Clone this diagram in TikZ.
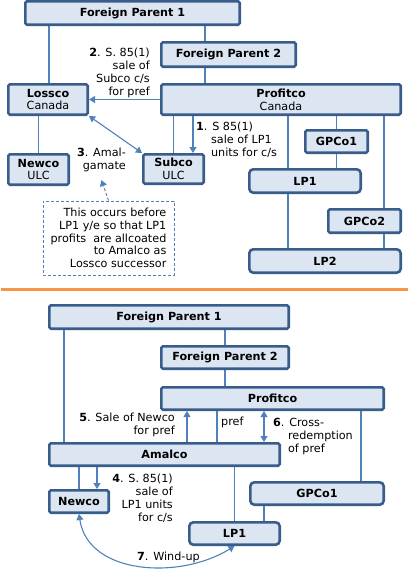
\documentclass[tikz,border=0pt]{standalone}
\usepackage{fontspec}
\setmainfont{DejaVu Sans}
\usetikzlibrary{arrows.meta,calc}

\definecolor{boxline}{RGB}{56,93,138}
\definecolor{boxfill}{RGB}{220,230,242}
\definecolor{linkblue}{RGB}{79,129,189}
\definecolor{sepline}{RGB}{247,150,70}

\newcommand{\hang}[1]{\hphantom{\textbf{#1}.\ }}

\begin{document}
\begin{tikzpicture}[x=1pt,y=-1pt,
  font=\fontsize{11.2}{12.8}\selectfont,
  box/.style={draw=boxline, fill=boxfill, line width=2.6pt, rounded corners=1.5pt, inner sep=1pt, align=center},
  lpbox/.style={box, rounded corners=4pt},
  link/.style={draw=linkblue, line width=1.1pt},
  arr/.style={link, -{Triangle[length=6pt,width=7pt]}},
  dblarr/.style={link, {Triangle[length=6pt,width=7pt]}-{Triangle[length=6pt,width=7pt]}},
  lbl/.style={inner sep=0pt, align=right, anchor=north east},
  lbll/.style={inner sep=0pt, align=left, anchor=north west}]
  \useasboundingbox (0,0) rectangle (409,570);

  % before the amalgamation
  \node[box, minimum width=214.4pt, minimum height=23.4pt] (fpA) at (132.5,13) {\textbf{Foreign Parent 1}};
  \node[box, minimum width=134.4pt, minimum height=24.4pt] (fpB) at (228.5,54.5) {\textbf{Foreign Parent 2}};
  \node[box, minimum width=79.4pt, minimum height=30.4pt] (lossco) at (48,99.5) {\textbf{Lossco}\\Canada};
  \node[box, minimum width=239.4pt, minimum height=30.4pt] (profitco) at (281,99.5) {\textbf{Profitco}\\Canada};
  \node[box, minimum width=60.4pt, minimum height=30.4pt] (newco) at (38.5,169.5) {\textbf{Newco}\\ULC};
  \node[box, minimum width=60.4pt, minimum height=29.4pt] (subco) at (173.5,169) {\textbf{Subco}\\ULC};
  \node[box, minimum width=62.4pt, minimum height=22.4pt] (gpcoA) at (336.5,141.5) {\textbf{GPCo1}};
  \node[lpbox, minimum width=111.4pt, minimum height=23.4pt] (lpA) at (305,181) {\textbf{LP1}};
  \node[box, minimum width=72.4pt, minimum height=23.4pt] (gpcoB) at (364.5,221) {\textbf{GPCo2}};
  \node[lpbox, minimum width=151.4pt, minimum height=23.4pt] (lpB) at (325,261) {\textbf{LP2}};
  \node[draw=linkblue, line width=0.9pt, dash pattern=on 3pt off 2pt, minimum width=131pt, minimum height=74pt, align=right, inner sep=2pt] (note) at (108.5,238)
    {This occurs before\\LP1 y/e so that LP1\\profits\ \ are allcoated\\to Amalco as\\Lossco successor};

  \coordinate (cA) at (49,0);
  \coordinate (cB) at (205,0);
  \coordinate (cC) at (193,0);
  \coordinate (cD) at (288,0);
  \coordinate (cE) at (384,0);

  \draw[link] (fpA.south -| cA) -- (lossco.north -| cA);
  \draw[link] (fpA.south -| cB) -- (fpB.north -| cB);
  \draw[link] (fpB.south -| cB) -- (profitco.north -| cB);
  \draw[link] (lossco.south -| newco) -- (newco.north);
  \draw[link] (profitco.south -| subco) -- (subco.north);
  \draw[arr] (profitco.south -| cC) -- (subco.north -| cC);
  \draw[arr] (profitco.west) -- (lossco.east);
  \draw[dblarr] (lossco.south east) -- (subco.north west);
  \draw[link] (profitco.south -| cD) -- (lpA.north -| cD);
  \draw[link] (lpA.south -| cD) -- (lpB.north -| cD);
  \draw[link] (profitco.south -| gpcoA) -- (gpcoA.north);
  \draw[link] (gpcoA.south) -- (lpA.north -| gpcoA);
  \draw[link] (profitco.south -| cE) -- (gpcoB.north -| cE);
  \draw[link] (gpcoB.south -| cE) -- (lpB.north -| cE);

  \node[lbl] (lblB) at (150,48) {\textbf{2}. S. 85(1)\\sale of\\Subco c/s\\for pref};
  \node[lbll] (lblA) at (196,122) {\textbf{1}. S 85(1)\\\hang{1}sale of LP1\\\hang{1}units for c/s};
  \node[lbl] (lblC) at (126,148) {\textbf{3}. Amal-\\gamate};
  \draw[link, line width=0.9pt, dash pattern=on 3pt off 2pt, -{Triangle[length=6pt,width=7pt]}] (note.north) -- ([yshift=-8pt]lblC.south);

  \draw[sepline, line width=3pt] (1,289) -- (408,289);

  % after the amalgamation
  \node[box, minimum width=239.4pt, minimum height=23.4pt] (fpA2) at (169,317) {\textbf{Foreign Parent 1}};
  \node[box, minimum width=127.4pt, minimum height=22.4pt] (fpB2) at (225,357.5) {\textbf{Foreign Parent 2}};
  \node[box, minimum width=222.4pt, minimum height=22.4pt] (profitco2) at (272.5,398.5) {\textbf{Profitco}};
  \node[box, minimum width=230.4pt, minimum height=22.4pt] (amalco) at (164.5,454.5) {\textbf{Amalco}};
  \node[box, minimum width=59.4pt, minimum height=22.4pt] (newco2) at (79,501.5) {\textbf{Newco}};
  \node[lpbox, minimum width=133.4pt, minimum height=22.4pt] (gpcoA2) at (317,493.5) {\textbf{GPCo1}};
  \node[lpbox, minimum width=90.4pt, minimum height=22.4pt] (lpA2) at (234.5,533.5) {\textbf{LP1}};

  \coordinate (dA) at (64,0);
  \coordinate (dB) at (187,0);
  \coordinate (dC) at (217,0);
  \coordinate (dD) at (264,0);
  \coordinate (dE) at (361,0);
  \coordinate (dF) at (97,0);

  \draw[link] (fpA2.south -| dA) -- (amalco.north -| dA);
  \draw[link] (fpA2.south -| fpB2) -- (fpB2.north);
  \draw[link] (fpB2.south) -- (profitco2.north -| fpB2);
  \draw[arr] (amalco.north -| dB) -- (profitco2.south -| dB);
  \draw[link] (profitco2.south -| dC) -- (amalco.north -| dC);
  \draw[dblarr] (profitco2.south -| dD) -- (amalco.north -| dD);
  \draw[link] (profitco2.south -| dE) -- (gpcoA2.north -| dE);
  \draw[link] (amalco.south -| newco2) -- (newco2.north);
  \draw[arr] (amalco.south -| dF) -- (newco2.north -| dF);
  \draw[link] (amalco.south -| lpA2) -- (lpA2.north);
  \draw[link] (gpcoA2.south -| dD) -- (lpA2.north -| dD);
  \draw[dblarr] (newco2.south) .. controls (88,575) and (180,580) .. (lpA2.south);

  \node[lbl] (lblE) at (175,413) {\textbf{5}. Sale of Newco\\for pref};
  \node[lbll] (lblP) at (221,417) {pref};
  \node[lbll] (lblF) at (273,418) {\textbf{6}. Cross-\\\hang{6}redemption\\\hang{6}of pref};
  \node[lbl] (lblD) at (173,474) {\textbf{4}. S. 85(1)\\sale of\\LP1 units\\for c/s};
  \node[lbll] (lblG) at (137,552) {\textbf{7}. Wind-up};
\end{tikzpicture}
\end{document}
